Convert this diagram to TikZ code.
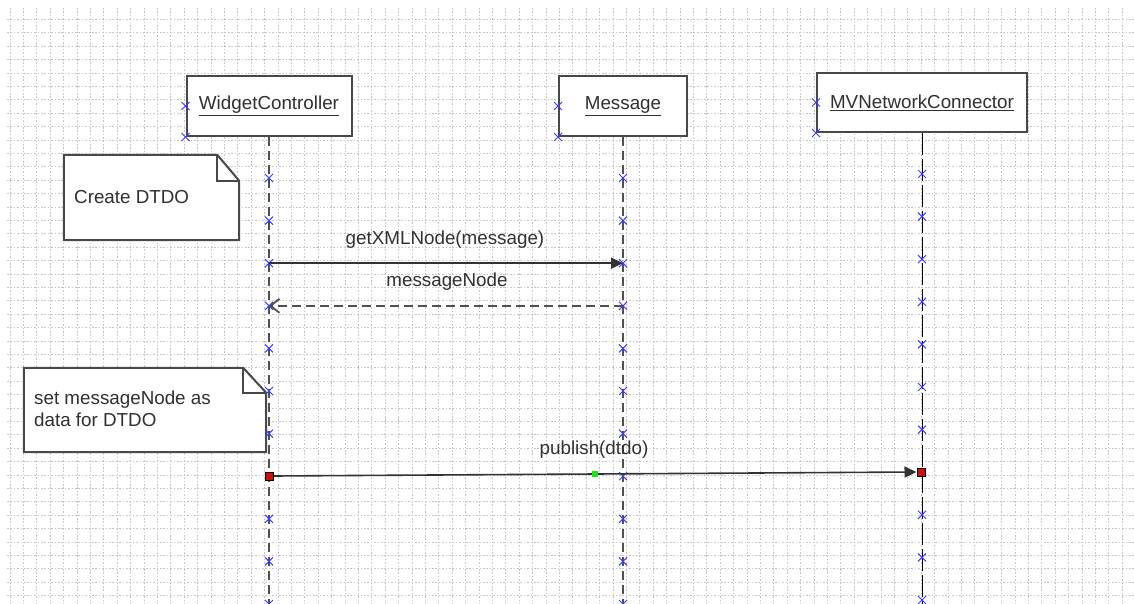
\documentclass[tikz,border=0pt]{standalone}
\usepackage{fontspec}
\setmainfont{Liberation Sans}
\usetikzlibrary{arrows.meta,shapes.misc}
\definecolor{ink}{HTML}{303030}
\definecolor{frame}{HTML}{484848}
\definecolor{gridc}{HTML}{C6C6C6}
\definecolor{lifec}{HTML}{505050}
\definecolor{mkblue}{HTML}{3C3CFF}
\definecolor{hotred}{HTML}{C81010}
\definecolor{hotgreen}{HTML}{20E020}
\tikzset{
  gridline/.style={gridc, line width=1pt, dash pattern=on 1.6pt off 1.8pt},
  obj/.style={draw=frame, line width=2pt, fill=white, text=ink,
              font=\fontsize{18.8}{22.5}\selectfont, inner sep=0pt},
  lbl/.style={text=ink, font=\fontsize{18.8}{22.5}\selectfont, inner sep=0pt},
  notebody/.style={draw=frame, line width=2pt, fill=white},
  notefold/.style={draw=frame, line width=1.6pt},
  lifeline/.style={lifec, line width=2.6pt, dash pattern=on 9pt off 5pt},
  lifedark/.style={black, line width=1pt, dash pattern=on 22pt off 4pt},
  xmk/.style={cross out, draw=mkblue, line width=1pt, minimum size=7pt, inner sep=0pt},
  callmsg/.style={draw=frame!70!black, line width=1.6pt, -{Triangle[length=12pt,width=11pt]}},
  retmsg/.style={draw=lifec, line width=1.8pt, dash pattern=on 9pt off 5pt,
                 -{Straight Barb[length=9pt,width=14pt]}},
  handle/.style={draw=black, fill=hotred, line width=1pt, minimum size=8pt, inner sep=0pt},
  midhandle/.style={fill=hotgreen, minimum size=6pt, inner sep=0pt}
}
\begin{document}
\begin{tikzpicture}[x=1pt,y=-1pt]
\useasboundingbox (0,0) rectangle (1134,604);

% background grid
\foreach \i in {0,...,83}
  \draw[gridline] ({10+13.4*\i},8) -- ({10+13.4*\i},604);
\foreach \j in {0,...,43}
  \draw[gridline] (7,{19.5+13.4*\j}) -- (1134,{19.5+13.4*\j});

% objects
\node[obj, minimum width=165pt, minimum height=60pt] (wc) at (269,106) {\underline{WidgetController}};
\node[obj, minimum width=128pt, minimum height=60pt] (msg) at (623,106) {\underline{Message}};
\node[obj, minimum width=210pt, minimum height=59pt] (mv) at (922,102.5) {\underline{MVNetworkConnector}};

% lifelines
\coordinate (wcEnd) at (269,612);
\coordinate (msgEnd) at (623,612);
\coordinate (mvEnd) at (922,612);
\draw[lifeline] (wc.south) -- (wcEnd);
\draw[lifeline] (msg.south) -- (msgEnd);
\draw[lifedark] (mv.south) -- (mvEnd);

% note: Create DTDO
\node[minimum width=175pt, minimum height=85pt, inner sep=0pt] (n1) at (151.5,197.5) {};
\draw[notebody] (n1.north west) -- ([xshift=-22pt]n1.north east)
  -- ([yshift=-26pt]n1.north east) -- (n1.south east) -- (n1.south west) -- cycle;
\draw[notefold] ([xshift=-22pt]n1.north east) -- ([xshift=-22pt,yshift=-26pt]n1.north east)
  -- ([yshift=-26pt]n1.north east);
\node[lbl, anchor=west] (n1t) at (74,197) {Create DTDO};

% note: set messageNode as data for DTDO
\node[minimum width=242pt, minimum height=84pt, inner sep=0pt] (n2) at (145,410) {};
\draw[notebody] (n2.north west) -- ([xshift=-23pt]n2.north east)
  -- ([yshift=-25pt]n2.north east) -- (n2.south east) -- (n2.south west) -- cycle;
\draw[notefold] ([xshift=-23pt]n2.north east) -- ([xshift=-23pt,yshift=-25pt]n2.north east)
  -- ([yshift=-25pt]n2.north east);
\node[lbl, anchor=west, align=left] (n2t) at (34,409) {set messageNode as\\data for DTDO};

% lifeline markers
\foreach \k in {0,...,10} {
  \node[xmk] (wcm\k) at (269,{178+42.6*\k}) {};
  \node[xmk] (msgm\k) at (623,{178+42.6*\k}) {};
  \node[xmk] (mvm\k) at (922,{174+42.6*\k}) {};
}
\node[xmk] (wcw) at (wc.west) {};
\node[xmk] (wcsw) at (wc.south west) {};
\node[xmk] (msgw) at (msg.west) {};
\node[xmk] (msgsw) at (msg.south west) {};
\node[xmk] (mvw) at (mv.west) {};
\node[xmk] (mvsw) at (mv.south west) {};

% messages
\draw[callmsg] (wcm2.center) -- (msgm2.center);
\node[lbl] (l1) at (445,240) {getXMLNode(message)};
\draw[retmsg] (msgm3.center) -- (wcm3.center);
\node[lbl] (l2) at (447,282) {messageNode};

\node[handle] (pubA) at (269,476) {};
\node[handle] (pubB) at (921,472) {};
\node[midhandle] (pubM) at (595,474) {};
\draw[callmsg] (pubA.east) -- (pubB.west);
\node[handle] at (pubA) {};
\node[handle] at (pubB) {};
\node[midhandle] at (pubM) {};
\node[lbl] (l3) at (594,450) {publish(dtdo)};
\end{tikzpicture}
\end{document}
